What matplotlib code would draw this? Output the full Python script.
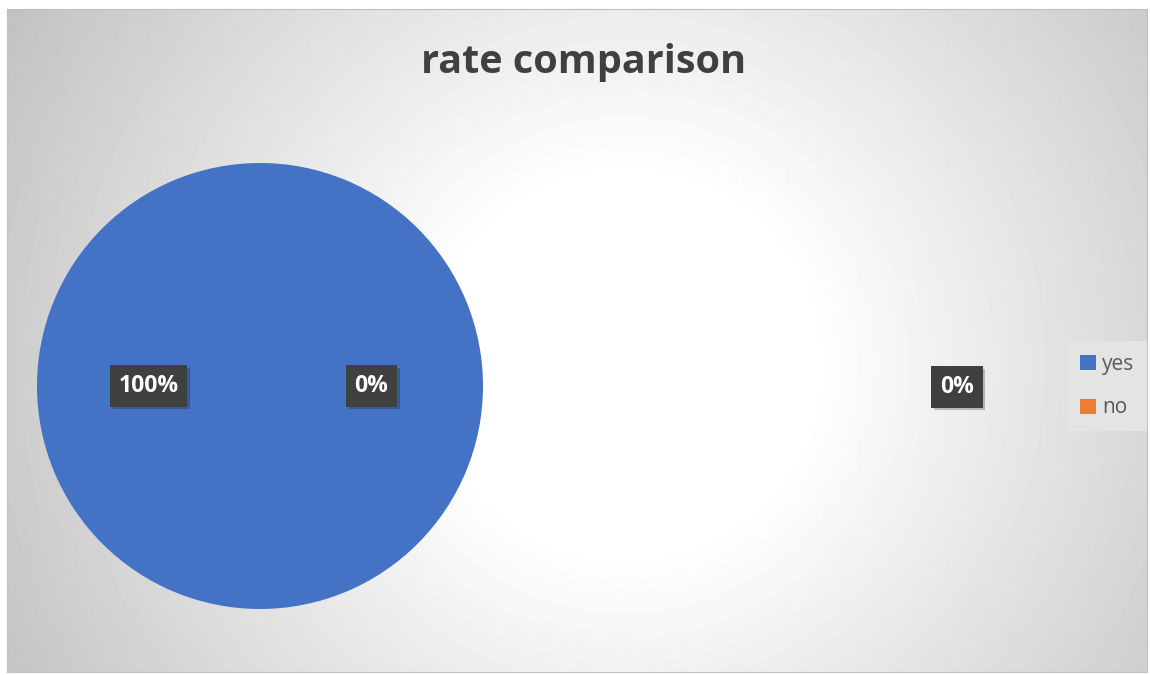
import numpy as np
import matplotlib
matplotlib.use("Agg")
from matplotlib import pyplot as plt
from matplotlib import patheffects as pe
from matplotlib.patches import Patch

categories = ["yes", "no"]
values = [1, 0]
colors = ["#4472C4", "#ED7D31"]
title = "rate comparison"
second_pie_label = "0%"

W, H = 1150, 675
fig = plt.figure(figsize=(W / 100, H / 100), dpi=100)
fig.patch.set_facecolor("white")

# chart area with radial grey gradient
x0, y0, x1, y1 = 7, 9, 1147, 672
bg = fig.add_axes([x0 / W, 1 - y1 / H, (x1 - x0) / W, (y1 - y0) / H])
gx, gy = np.meshgrid(np.arange(x0, x1), np.arange(y0, y1))
d = np.hypot(gx - 625, gy - 365)
t = np.clip((d - 190) / 520, 0, 1)
v = 1 - 0.24 * t
bg.imshow(v, cmap="gray", vmin=0, vmax=1, aspect="auto",
          extent=[0, 1, 0, 1], interpolation="bilinear")
bg.set_xticks([])
bg.set_yticks([])
for s in bg.spines.values():
    s.set_color("#bfbfbf")
    s.set_linewidth(0.8)

box = dict(boxstyle="square,pad=0.38", facecolor="#404040", edgecolor="none")
shadow = [pe.SimplePatchShadow(offset=(2, -2), alpha=0.25), pe.Normal()]

# main pie
r = 223
cx, cy = 260, 386
ax = fig.add_axes([(cx - r) / W, 1 - (cy + r) / H, 2 * r / W, 2 * r / H])
wedges, texts, autotexts = ax.pie(
    values, colors=colors, startangle=0, counterclock=True,
    autopct="%1.0f%%", pctdistance=0.5, radius=1,
    wedgeprops=dict(linewidth=0))
ax.set_xlim(-1, 1)
ax.set_ylim(-1, 1)
for t_ in autotexts:
    t_.set_color("white")
    t_.set_fontweight("bold")
    t_.set_fontsize(16.5)
    t_.set_family("Open Sans")
    t_.set_bbox(box)
    t_.get_bbox_patch().set_path_effects(shadow)

# label of the empty secondary pie
txt = fig.text(957 / W, 1 - 387 / H, second_pie_label, ha="center", va="center",
               color="white", fontweight="bold", fontsize=16.5, family="Open Sans",
               bbox=box)
txt.get_bbox_patch().set_path_effects(shadow)

fig.text(584 / W, 1 - 62 / H, title, ha="center", va="center",
         fontsize=28.5, fontweight="bold", color="#404040", family="Open Sans")

handles = [Patch(facecolor=c, edgecolor="none") for c in colors]
leg = fig.legend(handles, categories, loc="center", bbox_to_anchor=(1107 / W, 1 - 386 / H),
                 frameon=True, labelcolor="#595959",
                 handlelength=0.75, handleheight=0.75, handletextpad=0.3,
                 labelspacing=1.1, borderpad=0.6, fancybox=False,
                 prop=dict(family="Open Sans", size=15))
leg.get_frame().set_facecolor("#e4e4e4")
leg.get_frame().set_edgecolor("none")
leg.get_frame().set_alpha(1)

fig.savefig("out.png", dpi=100)
